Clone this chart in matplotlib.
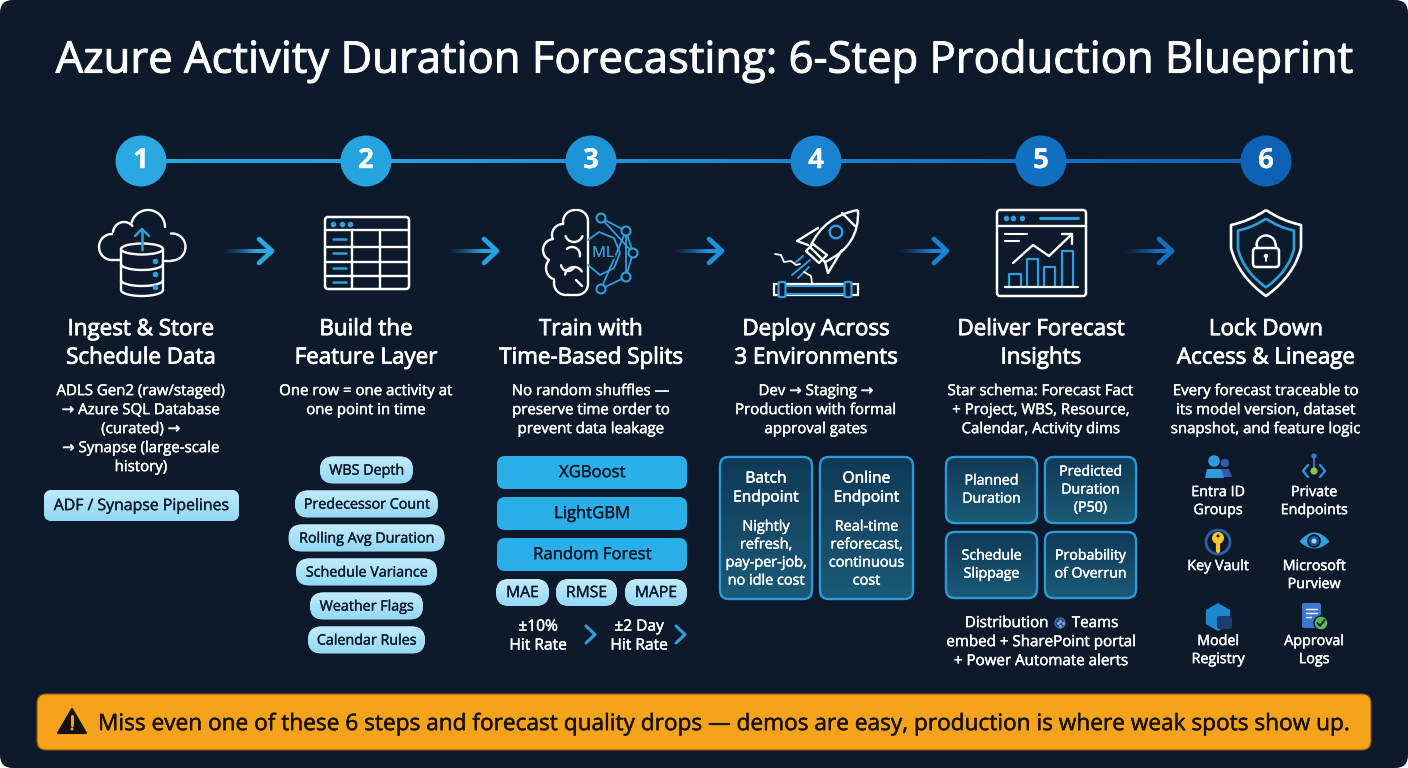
# Azure forecasting blueprint infographic
import numpy as np
import matplotlib
matplotlib.use('Agg')
import matplotlib.pyplot as plt
import matplotlib.patheffects as pe
from matplotlib.patches import FancyBboxPatch, Circle, Polygon, Ellipse, PathPatch, Rectangle
from matplotlib.path import Path
from matplotlib.colors import LinearSegmentedColormap, to_rgb

plt.rcParams['font.family'] = ['Open Sans', 'DejaVu Sans']

# text content
title = 'Azure Activity Duration Forecasting: 6-Step Production Blueprint'
step_numbers = ['1', '2', '3', '4', '5', '6']
step_colors = ['#29A9E0', '#25A4DF', '#1F93D8', '#1A84D2', '#1270C2', '#0C62B4']
headings = [
    ['Ingest & Store', 'Schedule Data'],
    ['Build the', 'Feature Layer'],
    ['Train with', 'Time-Based Splits'],
    ['Deploy Across', '3 Environments'],
    ['Deliver Forecast', 'Insights'],
    ['Lock Down', 'Access & Lineage'],
]
bodies = [
    ['ADLS Gen2 (raw/staged)', '→ Azure SQL Database', '(curated) →', '→ Synapse (large-scale', 'history)'],
    ['One row = one activity at', 'one point in time'],
    ['No random shuffles —', 'preserve time order to', 'prevent data leakage'],
    ['Dev → Staging →', 'Production with formal', 'approval gates'],
    ['Star schema: Forecast Fact', '+ Project, WBS, Resource,', 'Calendar, Activity dims'],
    ['Every forecast traceable to', 'its model version, dataset', 'snapshot, and feature logic'],
]
pipeline_label = 'ADF / Synapse Pipelines'
feature_pills = ['WBS Depth', 'Predecessor Count', 'Rolling Avg Duration', 'Schedule Variance', 'Weather Flags', 'Calendar Rules']
feature_widths = [93, 143, 156, 141, 113, 117]
model_bars = ['XGBoost', 'LightGBM', 'Random Forest']
metric_pills = ['MAE', 'RMSE', 'MAPE']
hit_rates = [['±10%', 'Hit Rate'], ['±2 Day', 'Hit Rate']]
endpoint_titles = [['Batch', 'Endpoint'], ['Online', 'Endpoint']]
endpoint_bodies = [['Nightly', 'refresh,', 'pay-per-job,', 'no idle cost'], ['Real-time', 'reforecast,', 'continuous', 'cost']]
insight_cards = [['Planned', 'Duration'], ['Predicted', 'Duration', '(P50)'], ['Schedule', 'Slippage'], ['Probability', 'of Overrun']]
distribution_lines = ['embed + SharePoint portal', '+ Power Automate alerts']
security_labels = [['Entra ID', 'Groups'], ['Private', 'Endpoints'], ['Key Vault'], ['Microsoft', 'Purview'], ['Model', 'Registry'], ['Approval', 'Logs']]
banner_text = 'Miss even one of these 6 steps and forecast quality drops — demos are easy, production is where weak spots show up.'

BG = '#0D1A2C'
WHITE = '#FFFFFF'
BLUE = '#2F9FDB'
INK = '#0B1A2B'

fig = plt.figure(figsize=(14.08, 7.68), dpi=100, facecolor='white')
ax = fig.add_axes([0, 0, 1, 1])
ax.set_xlim(0, 1408)
ax.set_ylim(768, 0)
ax.axis('off')


def box(x0, y0, x1, y1, r, **kw):
    p = FancyBboxPatch((x0 + r, y0 + r), x1 - x0 - 2 * r, y1 - y0 - 2 * r,
                       boxstyle=f'round,pad={r},rounding_size={r}', **kw)
    ax.add_patch(p)
    return p


def gradient(p, extent, c0, c1, z=3):
    cmap = LinearSegmentedColormap.from_list('g', [c0, c1])
    g = np.linspace(0, 1, 64).reshape(-1, 1)
    im = ax.imshow(g, extent=extent, aspect='auto', cmap=cmap, zorder=z, interpolation='bilinear')
    im.set_clip_path(p)


def grad_box(x0, y0, x1, y1, r, c0, c1, edge=None, lw=0):
    p = box(x0, y0, x1, y1, r, fc=c0, ec=edge if edge else 'none', lw=lw, zorder=2)
    gradient(p, (x0, x1, y1, y0), c0, c1)
    if edge:
        box(x0, y0, x1, y1, r, fc='none', ec=edge, lw=lw, zorder=4)


def txt(x, y, s, size, color=WHITE, weight='normal', ha='center', heavy=0.3):
    t = ax.text(x, y + 1.6, s, fontsize=size, color=color, weight=weight, ha=ha, va='center', zorder=6)
    t.set_path_effects([pe.withStroke(linewidth=heavy, foreground=color)])


def lines(x, y, dy, rows, size, color=WHITE, weight='normal', heavy=0.3):
    for i, row in enumerate(rows):
        txt(x, y + i * dy, row, size, color, weight, heavy=heavy)


def pl(xs, ys, c=WHITE, lw=1.7, z=5):
    ax.plot(xs, ys, color=c, lw=lw, zorder=z, solid_capstyle='round', solid_joinstyle='round')


def arc(cx, cy, r, a0, a1, c=WHITE, lw=1.7, ry=None):
    a = np.radians(np.linspace(a0, a1, 40))
    pl(cx + r * np.cos(a), cy - (ry if ry else r) * np.sin(a), c, lw)


def ring(x, y, r, c=BLUE, lw=1.5, fc='none'):
    ax.add_patch(Circle((x, y), r, fc=fc, ec=c, lw=lw, zorder=5))


def curve(verts, codes, c=WHITE, lw=1.7, fc='none'):
    ax.add_patch(PathPatch(Path(verts, codes), fc=fc, ec=c, lw=lw, zorder=5, joinstyle='round'))


# panel and title
box(0, 0, 1408, 768, 13, fc=BG, ec='none', zorder=0)
txt(704, 59.5, title, 31.4, heavy=0.7)

# timeline
step_x = [141 + 225 * i for i in range(len(step_numbers))]
line_clip = Rectangle((step_x[0], 158.5), step_x[-1] - step_x[0], 5, fc='none', ec='none', zorder=1)
ax.add_patch(line_clip)
cmap_line = LinearSegmentedColormap.from_list('tl', list(zip(np.linspace(0, 1, 6), step_colors)))
im = ax.imshow(np.linspace(0, 1, 256).reshape(1, -1), extent=(step_x[0], step_x[-1], 163.5, 158.5),
               aspect='auto', cmap=cmap_line, zorder=1)
im.set_clip_path(line_clip)
for x, n, c in zip(step_x, step_numbers, step_colors):
    ax.add_patch(Circle((x, 161), 25.5, fc=c, ec='none', zorder=2))
    txt(x, 159, n, 20, WHITE, 'bold', heavy=0)

# arrows between steps, shaft fades in from the left
for x, c in zip(step_x[:-1], step_colors[:-1]):
    x0 = x + 81
    rgba = np.zeros((1, 64, 4))
    rgba[..., :3] = to_rgb(c)
    rgba[..., 3] = np.clip(np.linspace(0, 1.4, 64), 0, 1) ** 1.3
    ax.imshow(rgba, extent=(x0, x0 + 49, 253, 249), aspect='auto', zorder=3, interpolation='bilinear')
    pl([x0 + 37, x0 + 50, x0 + 37], [239, 251, 263], c, 3.4)

# headings and body text
for x, head, body in zip(step_x, headings, bodies):
    lines(x, 328, 28.5, head, 16.1, heavy=0.6)
    lines(x, 390, 19, body, 10.8)

# step 1 icon: cloud + database
arc(112, 247, 13, 90, 270)
pl([112, 121], [260, 260])
arc(124, 233, 11, 40, 175)
arc(148, 227, 17, 0, 165)
arc(172, 247, 13.5, -90, 95)
pl([165, 172], [260.5, 260.5])
pl([121, 121], [249, 290])
pl([163, 163], [249, 290])
ax.add_patch(Ellipse((142, 249), 42, 11, fc=BG, ec=WHITE, lw=1.7, zorder=5))
for yy in [264, 280, 290]:
    arc(142, yy, 21, 180, 360, ry=6)
pl([142, 142], [250, 229], BLUE, 1.8, 6)
pl([135, 142, 149], [236, 229, 236], BLUE, 1.8, 6)
ax.scatter([155, 155, 155], [261, 274, 287], s=9, color=BLUE, zorder=6)

# step 2 icon: table
box(325, 217, 409, 289, 3, fc='none', ec=WHITE, lw=1.8, zorder=5)
pl([325, 409], [230, 230])
for yy in [247, 262, 276]:
    pl([325, 409], [yy, yy])
for xx in [352, 380]:
    pl([xx, xx], [230, 289])
ax.scatter([333, 342, 350], [224, 224, 224], s=9, color=BLUE, zorder=6)
for yy in [239, 253, 268, 282]:
    pl([333, 346], [yy, yy], BLUE, 1.8)

# step 3 icon: brain + network
for cx, cy, r, a0, a1 in [(575, 222, 12, 90, 190), (563, 235, 11, 90, 200), (554, 250, 11, 95, 240),
                          (558, 268, 12, 138, 250), (566, 283, 12, 170, 280)]:
    arc(cx, cy, r, a0, a1)
arc(577, 221, 11, 0, 90)
arc(577, 284, 11, -90, 0)
pl([568, 577], [295, 295])
pl([588, 588], [221, 284])
arc(574, 233, 9, 200, 340)
arc(572, 255, 8, -10, 130)
arc(574, 276, 9, 30, 170)
arc(568, 264, 7, 190, 320)
pl([576, 582], [280, 286])
hex_x = [588, 599, 614, 620, 614, 600, 588]
hex_y = [240, 232, 238, 253, 268, 275, 265]
pl(hex_x, hex_y, BLUE, 1.3)
nodes = [(601, 218), (626, 231), (633, 253), (626, 277), (601, 289)]
links = [(0, 1), (0, 2), (1, 3), (2, 3), (3, 4), (4, 1), (1, 2)]
for a, b in links:
    pl([nodes[a][0], nodes[b][0]], [nodes[a][1], nodes[b][1]], BLUE, 1.3)
for nx, ny in nodes:
    ring(nx, ny, 4.5, BLUE, 1.5, BG)
ax.text(603, 253.5, 'ML', fontsize=11, color=BLUE, ha='center', va='center', zorder=7,
        path_effects=[pe.withStroke(linewidth=3, foreground=BG), pe.Normal()])

# step 4 icon: rocket + pipe
body_verts = [(858, 210), (824, 216), (810, 247), (825, 262), (860, 246), (858, 210)]
curve(body_verts, [Path.MOVETO, Path.CURVE3, Path.CURVE3, Path.LINETO, Path.CURVE3, Path.CURVE3])
pl([842, 855], [213, 226])
ring(836, 232, 6.3, BLUE, 1.7)
pl([818, 797, 808], [228, 241, 245])
pl([842, 828, 825], [250, 273, 262])
pl([806, 813, 827, 819, 806], [251, 244, 255, 263, 251])
pl([792, 810], [275, 260], BLUE, 1.4)
pl([795, 803], [263, 256], BLUE, 1.4)
pl([798, 809], [278, 267], BLUE, 1.4)
pl([775, 781, 784, 791, 796, 800], [254, 255, 262, 261, 265, 264], WHITE, 1.3)
pl([804, 811, 812], [272, 276, 283], WHITE, 1.3)
ax.add_patch(Rectangle((774, 284), 84, 11, fc=BG, ec=WHITE, lw=1.6, zorder=4))
ax.add_patch(Rectangle((781, 285.5), 70, 8, fc=BG, ec=BLUE, lw=1.5, zorder=5))
for xx in [782, 848]:
    box(xx - 3.5, 282, xx + 3.5, 297, 1.5, fc=BG, ec=BLUE, lw=1.6, zorder=6)

# step 5 icon: dashboard
box(997, 210, 1086, 296, 3, fc='none', ec=WHITE, lw=1.8, zorder=5)
pl([997, 1086], [226, 226])
ax.scatter([1006, 1013, 1022], [218, 218, 218], s=9, color=BLUE, zorder=6)
pl([1040, 1078], [218, 218], BLUE, 2.2)
pl([1005, 1027], [234, 234], WHITE, 1.5)
pl([1005, 1019], [241, 241], WHITE, 1.5)
pl([1013, 1033, 1049, 1072], [263, 245, 256, 234])
pl([1062, 1072, 1072], [234, 234, 244])
for x0, x1, top in [(1009, 1021, 274), (1027, 1038, 259), (1044, 1055, 267), (1062, 1073, 251)]:
    pl([x0, x0, x1, x1], [287, top, top, 287], BLUE, 1.6)
pl([1005, 1078], [287, 287], WHITE, 1.6)


# step 6 icon: shield + lock
def shield(s, c, lw):
    cx, cy = 1266, 253
    pts = [(0, -43), (16, -32), (35, -28), (35, -5), (28, 23), (0, 43), (-28, 23), (-35, -5), (-35, -28), (-16, -32), (0, -43)]
    pts = [(cx + s * a, cy + s * b) for a, b in pts]
    codes = [Path.MOVETO, Path.CURVE3, Path.CURVE3, Path.LINETO, Path.CURVE3, Path.CURVE3,
             Path.CURVE3, Path.CURVE3, Path.LINETO, Path.CURVE3, Path.CURVE3]
    curve(pts, codes, c, lw)


shield(1.0, WHITE, 1.9)
shield(0.8, BLUE, 1.9)
box(1253, 248, 1279, 267, 3, fc='none', ec=WHITE, lw=1.8, zorder=5)
arc(1266, 245, 9.5, 0, 180)
pl([1256.5, 1256.5], [245, 248])
pl([1275.5, 1275.5], [245, 248])
ax.add_patch(Circle((1266, 256), 2.2, fc=WHITE, ec='none', zorder=6))
pl([1266, 1266], [256, 261], WHITE, 1.3)

# step 1 extra
grad_box(44, 490, 239, 521, 8, '#BDE9FA', '#92D8F6')
txt(141.5, 504.5, pipeline_label, 11.4, INK, heavy=0.25)

# step 2 pills
for i, (label, w) in enumerate(zip(feature_pills, feature_widths)):
    yc = 470 + 34 * i
    grad_box(366.5 - w / 2, yc - 13.5, 366.5 + w / 2, yc + 13.5, 13.5, '#C2EBFB', '#93D9F6')
    txt(366.5, yc - 0.5, label, 10.3, INK, heavy=0.25)

# step 3 bars, metrics, hit rates
for i, label in enumerate(model_bars):
    y0 = 456 + 41 * i
    box(497, y0, 687, y0 + 33, 8, fc='#29B0E8', ec='none', zorder=3)
    txt(592, y0 + 15.5, label, 12, INK, heavy=0.3)
metric_x = [(496, 549), (556, 617), (625, 687)]
for (x0, x1), label in zip(metric_x, metric_pills):
    grad_box(x0, 579, x1, 606, 13.5, '#C2EBFB', '#93D9F6')
    txt((x0 + x1) / 2, 591.5, label, 11.3, INK, heavy=0.25)
for xc, chev, rows in zip([538, 639], [586, 676], hit_rates):
    lines(xc, 625, 19, rows, 11.2)
    pl([chev, chev + 9, chev], [626, 634.5, 643], BLUE, 2.2)

# step 4 cards
for x0, x1, head, rows in zip([720, 820], [812, 913], endpoint_titles, endpoint_bodies):
    grad_box(x0, 457, x1, 599, 9, '#0F3A58', '#1B5A78', '#2A9BD4', 1.6)
    xc = (x0 + x1) / 2
    lines(xc, 477, 19, head, 11.2, heavy=0.4)
    lines(xc, 525.5, 18, rows, 10.4)

# step 5 cards
card_boxes = [(946, 457, 1037, 523), (1045, 457, 1136, 523), (946, 532, 1037, 598), (1045, 532, 1136, 598)]
for (x0, y0, x1, y1), rows in zip(card_boxes, insight_cards):
    grad_box(x0, y0, x1, y1, 9, '#0F3A58', '#1B5A78', '#2A9BD4', 1.6)
    yc = (y0 + y1) / 2 - 9 * (len(rows) - 1) - 1.5
    lines((x0 + x1) / 2, yc, 18, rows, 10.2)
txt(1006.5, 622, 'Distribution', 10.9)
ring(1060, 623, 5, '#3F6DB5', 1, '#24457E')
ax.scatter([1057.5, 1060, 1062.5, 1060], [623, 620.5, 623, 625.5], s=1.5, color='#7FA6E0', zorder=6)
txt(1095, 622, 'Teams', 10.9)
lines(1041, 641, 19, distribution_lines, 10.9)

# step 6 labels and small icons
sec_x = [1218, 1314, 1218, 1314, 1218, 1314]
sec_y = [491, 491, 565, 565, 640, 640]
for x, y, rows in zip(sec_x, sec_y, security_labels):
    lines(x, y, 18, rows, 10.3)

# entra id
ax.add_patch(Circle((1225, 463), 4.2, fc='#2F5DA8', ec='none', zorder=5))
ax.add_patch(Polygon([(1219, 477), (1221, 469), (1229, 469), (1232, 477)], fc='#2F5DA8', ec='none', zorder=5))
ax.add_patch(Circle((1214, 461), 5.8, fc='#2E9BDD', ec='none', zorder=6))
ax.add_patch(Polygon([(1205, 478), (1207, 469), (1221, 469), (1224, 478)], fc='#2E9BDD', ec='none', zorder=6))
# private endpoints
pl([1314, 1314], [456, 470], '#3A78C8', 1.3)
ax.add_patch(Circle((1314, 456), 2.6, fc='#3A78C8', ec='none', zorder=6))
ax.add_patch(Circle((1314, 471), 3.6, fc='#8BC34A', ec='none', zorder=6))
pl([1308, 1303, 1308], [465, 471, 477], '#3A8FD8', 1.7)
pl([1320, 1325, 1320], [465, 471, 477], '#3A8FD8', 1.7)
# key vault
ax.add_patch(Circle((1218, 542), 12, fc=BG, ec='#2F5DA8', lw=2, zorder=5))
ax.add_patch(Circle((1218, 538), 6, fc='#F9C62B', ec='none', zorder=6))
pl([1218, 1218], [540, 551], '#F9C62B', 3)
ax.add_patch(Circle((1218, 536), 1.5, fc=BG, ec='none', zorder=7))
# purview
eye_x = np.linspace(-15, 15, 30)
eye_top = 541 - 9 * (1 - (eye_x / 15) ** 2)
eye_bot = 541 + 7 * (1 - (eye_x / 15) ** 2)
ax.fill_between(1314 + eye_x, eye_top, eye_bot, color='#2FA3DC', lw=0, zorder=5)
ax.add_patch(Circle((1314, 541), 6, fc='#1E4E8C', ec=BG, lw=1.2, zorder=6))
ax.add_patch(Circle((1314, 541), 2.6, fc='#8FD8F5', ec='none', zorder=7))
# model registry
hx = 1218 + 14 * np.sin(np.radians(np.arange(0, 360, 60)))
hy = 617 - 14 * np.cos(np.radians(np.arange(0, 360, 60)))
ax.add_patch(Polygon(np.column_stack([hx, hy]), fc='#1E88D0', ec='none', zorder=5))
box(1217, 616, 1232, 629, 2, fc='#1C3F6E', ec='none', zorder=6)
# approval logs
box(1302, 603, 1321, 628, 2, fc='#3B78D0', ec='none', zorder=5)
for yy, xe in [(609, 1317), (613, 1317), (617, 1311)]:
    pl([1306, xe], [yy, yy], WHITE, 1)
ax.add_patch(Circle((1321, 623), 7, fc='#5CB85C', ec=BG, lw=1, zorder=6))
pl([1317.5, 1320, 1324.5], [623, 626, 620], '#0B2A18', 1.4, 7)

# banner
box(37, 694, 1371, 750, 9, fc='#F5A31A', ec='#8A5A10', lw=0.8, zorder=2)
ax.add_patch(Polygon([(72, 709), (86, 733), (58, 733)], closed=True, fc='#111111', ec='#111111', lw=1.5, joinstyle='round', zorder=5))
pl([72, 72], [716, 725], '#F5A31A', 2.2, 6)
ax.add_patch(Circle((72, 729), 1.5, fc='#F5A31A', ec='none', zorder=6))
txt(98, 722.5, banner_text, 16.3, '#17120A', ha='left', heavy=0.35)

ax.set_xlim(0, 1408)
ax.set_ylim(768, 0)
fig.savefig('out.png', dpi=100, facecolor='white')
